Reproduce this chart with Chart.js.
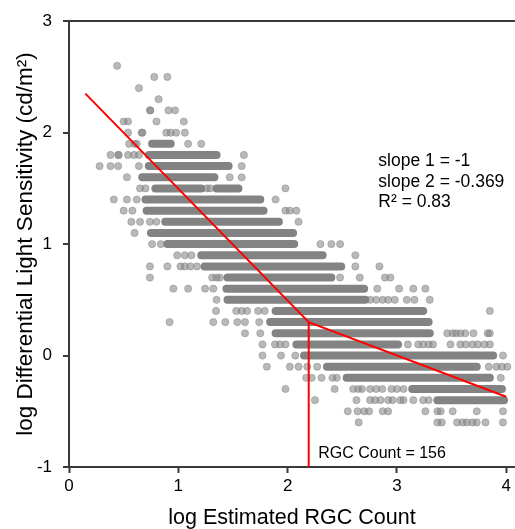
<!DOCTYPE html>
<html>
<head>
<meta charset="utf-8">
<script src="https://cdn.jsdelivr.net/npm/chart.js@4.4.1/dist/chart.umd.min.js"></script>
<style>
  html, body { margin: 0; padding: 0; background: #fff; }
</style>
</head>
<body>
<canvas id="chart" width="515" height="529"></canvas>
<script>
// tick labels
const xTicks = [0, 1, 2, 3, 4];
const yTicks = [-1, 0, 1, 2, 3];

// sensitivity is recorded in 0.1 log steps, so points sit on rows
const rowValues = [2.6, 2.5, 2.4, 2.3, 2.2, 2.1, 2.0, 1.9, 1.8, 1.7, 1.6, 1.5, 1.4, 1.3, 1.2, 1.1, 1.0,
  0.9, 0.8, 0.7, 0.6, 0.5, 0.4, 0.3, 0.2, 0.1, 0.0, -0.1, -0.2, -0.3, -0.4, -0.5, -0.6];

// separate (readable) points in each row, log RGC count
const rowPoints = [
  [0.44],
  [0.78, 0.90],
  [0.64],
  [0.82],
  [0.74, 0.745, 0.91, 0.97],
  [0.50, 0.54, 0.80, 1.05],
  [0.54, 0.665, 0.672, 0.89, 0.93, 0.98, 1.06],
  [0.55, 0.60, 0.62, 1.09, 1.21],
  [0.38, 0.45, 0.455, 0.54, 0.595, 0.64, 1.60],
  [0.28, 0.38, 0.45, 0.64, 1.58],
  [0.53, 1.47, 1.58],
  [0.65, 0.70, 1.26, 1.29, 1.98],
  [0.41, 0.53, 0.62, 1.89],
  [0.50, 0.58, 1.98, 2.02, 2.08],
  [0.57, 0.65, 0.74, 0.80, 2.10],
  [0.60],
  [0.76, 0.84, 2.30, 2.40, 2.48],
  [0.99, 1.06, 1.12, 2.62],
  [0.74, 0.90, 1.02, 1.06, 1.11, 1.17, 2.62, 2.84],
  [0.74, 1.31, 1.35, 1.38, 2.48, 2.66, 2.89, 2.94],
  [0.955, 1.09, 1.245, 1.32, 2.82, 3.02, 3.15, 3.26],
  [1.35, 2.755, 2.81, 2.87, 2.92, 2.98, 3.09, 3.16, 3.30],
  [1.345, 1.53, 1.58, 1.63, 1.73, 1.79, 3.85],
  [0.92, 1.32, 1.43, 1.54, 1.61, 1.74],
  [1.61, 1.75, 3.46, 3.51, 3.54, 3.58, 3.625, 3.70, 3.83, 3.85],
  [1.77, 1.885, 1.93, 1.98, 3.10, 3.195, 3.24, 3.29, 3.33, 3.49, 3.58, 3.63, 3.69, 3.74, 3.80, 3.85],
  [1.77, 1.94, 2.07, 3.97],
  [1.81, 2.02, 2.10, 2.18, 2.27, 3.84, 3.91, 3.96, 4.01],
  [2.17, 2.22, 2.31, 2.41, 2.45, 3.95],
  [1.98, 2.43, 2.60, 2.645, 2.68, 2.755, 2.81, 2.865, 2.95, 3.00, 3.06],
  [2.25, 2.63, 2.755, 2.80, 2.85, 2.92, 2.96, 3.03, 3.06, 3.15, 3.24, 3.29],
  [2.55, 2.64, 2.70, 2.745, 2.87, 2.92, 3.26, 3.37, 3.40, 3.51, 3.73, 3.97],
  [2.65, 3.37, 3.41, 3.55, 3.60, 3.64, 3.69, 3.73, 3.81, 3.97]
];

// rows where points overlap into a solid run: row, first and last x
const runValues = [1.9, 1.8, 1.7, 1.6, 1.5, 1.5, 1.4, 1.3, 1.2, 1.1, 1.0, 0.9, 0.8, 0.7, 0.6, 0.5,
  0.4, 0.3, 0.2, 0.1, 0.0, -0.1, -0.2, -0.3, -0.4];
const runStart = [0.76, 0.73, 0.73, 0.67, 0.79, 1.35, 0.70, 0.71, 0.88, 0.75, 0.90, 1.21, 1.24, 1.45, 1.44, 1.45,
  1.89, 1.84, 1.89, 2.08, 2.15, 2.36, 2.54, 3.14, 3.37];
const runEnd = [0.93, 1.35, 1.46, 1.33, 1.21, 1.55, 1.75, 1.78, 1.92, 2.05, 2.06, 2.32, 2.49, 2.40, 2.70, 2.71,
  3.24, 3.29, 3.30, 3.01, 3.88, 3.73, 3.85, 3.96, 3.98];

// two-segment fit, breakpoint at log10(156)
const fitX = [0.15, 2.193, 4.0];
const fitY = [2.35, 0.30, -0.37];
const breakX = 2.193;

const fitNotes = ['slope 1 = -1', 'slope 2 = -0.369', 'R\u00B2 = 0.83'];
const countNote = 'RGC Count = 156';

const FONT = '"Liberation Sans", Arial, sans-serif';
const AXIS = '#3a3a3a';
const GRAY = '#838383';

const scatterData = [];
rowValues.forEach((v, i) => rowPoints[i].forEach(x => scatterData.push({ x: x, y: v })));

const runSets = runValues.map((v, i) => ({
  type: 'line',
  data: [{ x: runStart[i], y: v }, { x: runEnd[i], y: v }],
  borderColor: GRAY,
  borderWidth: 8,
  borderCapStyle: 'round',
  pointRadius: 0,
  order: 3
}));

const notesPlugin = {
  id: 'notes',
  afterDatasetsDraw(chart) {
    const { ctx, scales: { x, y } } = chart;
    ctx.save();
    ctx.fillStyle = '#000';
    ctx.textAlign = 'left';
    ctx.textBaseline = 'middle';
    ctx.font = '17.5px ' + FONT;
    fitNotes.forEach((t, i) => {
      ctx.fillText(t, x.getPixelForValue(2.83), y.getPixelForValue(1.74) + i * 20.5);
    });
    ctx.font = '16px ' + FONT;
    ctx.fillText(countNote, x.getPixelForValue(2.28), y.getPixelForValue(-0.884));
    ctx.restore();
  }
};

new Chart(document.getElementById('chart'), {
  type: 'scatter',
  data: {
    datasets: [
      {
        type: 'line',
        data: fitX.map((x, i) => ({ x: x, y: fitY[i] })),
        borderColor: '#ff0000',
        borderWidth: 2,
        pointRadius: 0,
        order: 1
      },
      {
        type: 'line',
        data: [{ x: breakX, y: fitY[1] }, { x: breakX, y: yTicks[0] }],
        borderColor: '#ff0000',
        borderWidth: 2,
        pointRadius: 0,
        order: 1
      },
      {
        data: scatterData,
        pointRadius: 3.6,
        backgroundColor: 'rgba(128,128,128,0.55)',
        borderColor: 'rgba(128,128,128,0.45)',
        borderWidth: 1,
        order: 2
      },
      ...runSets
    ]
  },
  options: {
    responsive: false,
    animation: false,
    devicePixelRatio: 1,
    layout: { autoPadding: false, padding: { top: 18, left: 0, right: 0, bottom: 0 } },
    plugins: { legend: { display: false }, tooltip: { enabled: false } },
    scales: {
      x: {
        type: 'linear',
        min: 0,
        max: 4.08,
        afterBuildTicks: s => { s.ticks = xTicks.map(v => ({ value: v })); },
        afterFit: s => { s.height = 62; s.paddingLeft = 0; s.paddingRight = 0; },
        grid: { drawOnChartArea: false, tickLength: 6, tickColor: AXIS, tickWidth: 2 },
        border: { color: AXIS, width: 2 },
        ticks: { color: '#000', font: { family: FONT, size: 17 }, padding: 3, maxRotation: 0 },
        title: {
          display: true,
          text: 'log Estimated RGC Count',
          color: '#000',
          font: { family: FONT, size: 21.5, lineHeight: 1 },
          padding: { top: 0, bottom: 0 }
        }
      },
      y: {
        type: 'linear',
        min: -1,
        max: 3,
        afterBuildTicks: s => { s.ticks = yTicks.map(v => ({ value: v })); },
        afterFit: s => { s.width = 69; },
        grid: {
          color: c => (c.tick && c.tick.value === 3 ? AXIS : 'rgba(0,0,0,0)'),
          lineWidth: 2,
          tickLength: 6,
          tickColor: AXIS,
          tickWidth: 2
        },
        border: { color: AXIS, width: 2 },
        ticks: { color: '#000', font: { family: FONT, size: 17 }, padding: 11 },
        title: {
          display: true,
          text: 'log Differential Light Sensitivity (cd/m\u00B2)',
          color: '#000',
          font: { family: FONT, size: 22.5 },
          padding: { top: 12, bottom: 0 }
        }
      }
    }
  },
  plugins: [notesPlugin]
});
</script>
</body>
</html>
